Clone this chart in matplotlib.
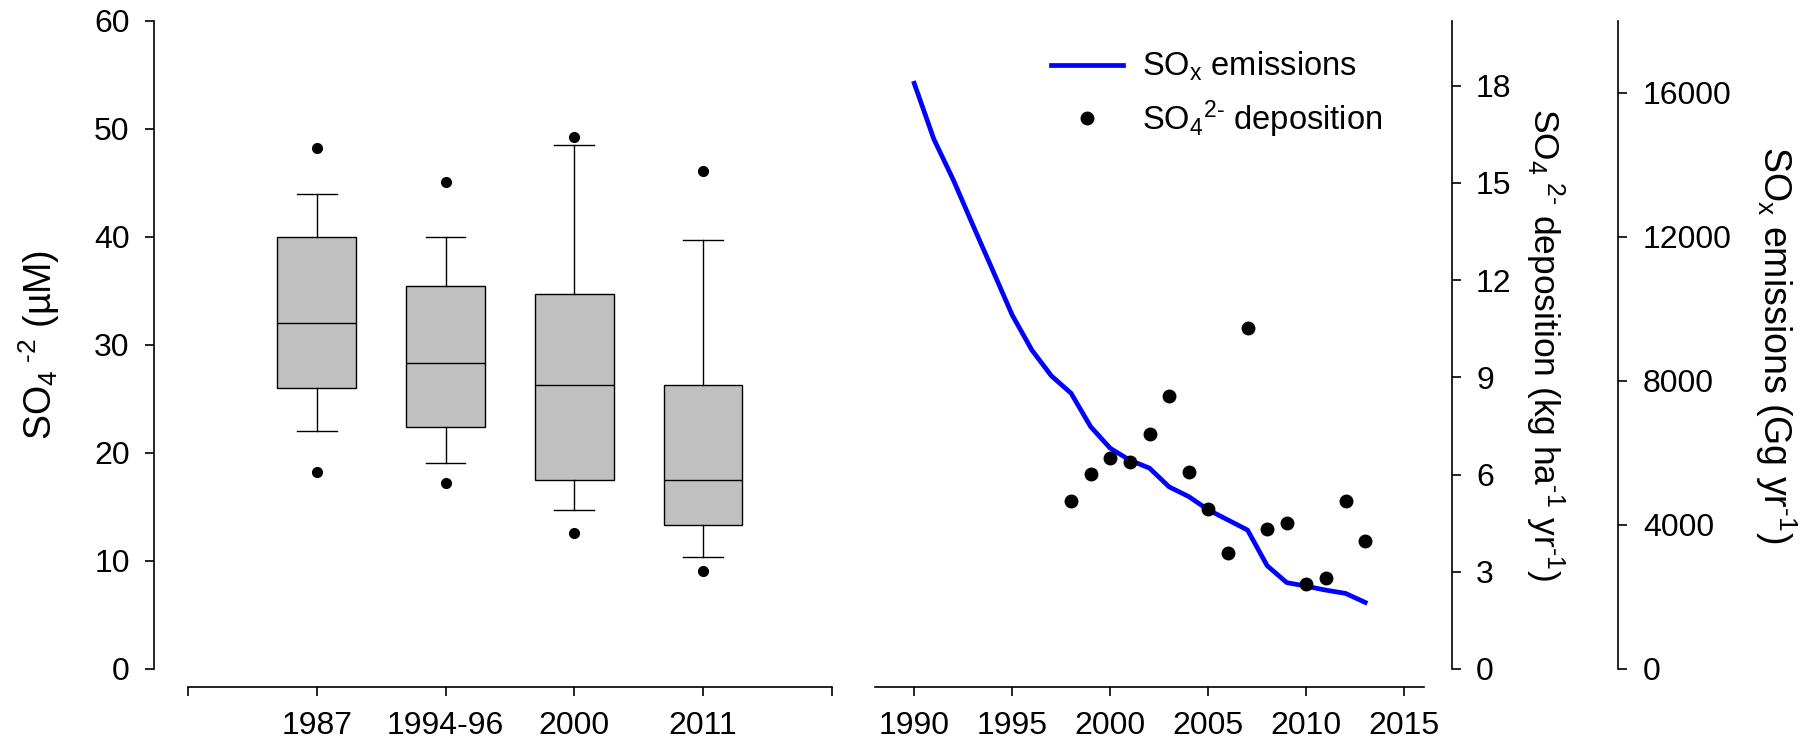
import matplotlib
matplotlib.use('Agg')
import matplotlib.pyplot as plt

plt.rcParams['font.family'] = ['Liberation Sans', 'DejaVu Sans']
plt.rcParams['mathtext.fontset'] = 'custom'
plt.rcParams['mathtext.rm'] = 'Liberation Sans'
plt.rcParams['mathtext.it'] = 'Liberation Sans:italic'
plt.rcParams['mathtext.bf'] = 'Liberation Sans:bold'

# box plot summaries, SO4 concentration (uM)
periods = ['1987', '1994-96', '2000', '2011']
whisk_lo = [22.0, 19.1, 14.7, 10.4]
q1 = [26.0, 22.4, 17.5, 13.3]
medians = [32.0, 28.3, 26.3, 17.5]
q3 = [40.0, 35.5, 34.7, 26.3]
whisk_hi = [44.0, 40.0, 48.5, 39.7]
outliers = [[48.2, 18.2], [45.1, 17.2], [49.3, 12.6], [46.1, 9.1]]

# SOx emissions (Gg/yr)
em_years = list(range(1990, 2014))
emissions = [16270, 14720, 13580, 12320, 11080, 9830, 8860, 8140, 7660, 6730,
             6130, 5800, 5580, 5060, 4790, 4420, 4140, 3860, 2870, 2400,
             2300, 2190, 2100, 1850]

# SO4 deposition (kg/ha/yr)
dep_years = list(range(1998, 2014))
deposition = [5.19, 6.01, 6.51, 6.39, 7.24, 8.42, 6.07, 4.94, 3.59, 10.53,
              4.31, 4.52, 2.62, 2.82, 5.19, 3.96]

W, H = 1812, 746
fig = plt.figure(figsize=(W / 100, H / 100), dpi=100)

y_bot, y_top = 669, 21
fb = 1 - y_bot / H
fh = (y_bot - y_top) / H

TICK = 23
LAB = 26
SPW = 1.2


def style_axis(ax):
    ax.tick_params(direction='out', length=6.5, width=SPW, labelsize=TICK, pad=11)
    for s in ax.spines.values():
        s.set_linewidth(SPW)


# ---- left panel: box plots
ax1 = fig.add_axes([154 / W, fb, (832 - 154) / W, fh])
stats = []
for i, p in enumerate(periods):
    stats.append(dict(label=p, whislo=whisk_lo[i], q1=q1[i], med=medians[i],
                      q3=q3[i], whishi=whisk_hi[i], fliers=outliers[i]))
ax1.bxp(stats, positions=[1, 2, 3, 4], widths=0.61, capwidths=0.31,
        patch_artist=True,
        boxprops=dict(facecolor='#c0c0c0', edgecolor='black', linewidth=1.0),
        medianprops=dict(color='black', linewidth=1.0),
        whiskerprops=dict(color='black', linewidth=1.0),
        capprops=dict(color='black', linewidth=1.0),
        flierprops=dict(marker='o', markerfacecolor='black',
                        markeredgecolor='black', markersize=7))
ax1.set_xlim(-0.263, 5.0)
ax1.set_ylim(0, 60)
ax1.set_xticks([0, 1, 2, 3, 4, 5])
ax1.set_xticklabels([''] + periods + [''])
ax1.set_yticks(range(0, 61, 10))
ax1.spines['top'].set_visible(False)
ax1.spines['right'].set_visible(False)
ax1.spines['bottom'].set_position(('outward', 13))
ax1.spines['bottom'].set_bounds(0, 5)
style_axis(ax1)
ax1.set_ylabel(r'SO$_4$$^{\ \text{-}2}$ (µM)', fontsize=LAB + 1)
ax1.yaxis.set_label_coords(-0.17, 0.5)
ax1.yaxis.label.set_verticalalignment('center')

# ---- right panel: emissions line + deposition points
x0, x1 = 875, 1424
ax2 = fig.add_axes([x0 / W, fb, (x1 - x0) / W, fh])
line, = ax2.plot(em_years, emissions, color='#0000ff', linewidth=3.4,
                 solid_joinstyle='round')
ax2.set_xlim(1988, 2016)
ax2.set_ylim(0, 18000)
ax2.set_xticks(range(1990, 2016, 5))
ax2.set_yticks(range(0, 16001, 4000))

ax3 = ax2.twinx()
dots, = ax3.plot(dep_years, deposition, linestyle='none', marker='o',
                 color='black', markersize=9)
ax3.set_ylim(0, 20)
ax3.set_yticks(range(0, 19, 3))

# twinx moves the host ticks to the left, put them back right
ax2.yaxis.tick_right()
ax2.yaxis.set_label_position('right')
ax2.spines['left'].set_visible(False)
ax2.spines['top'].set_visible(False)
ax2.spines['right'].set_position(('outward', 140))
ax2.spines['bottom'].set_position(('outward', 13))
style_axis(ax2)
ax2.set_ylabel(r'SO$_\mathrm{x}$ emissions (Gg yr$^{\text{-}1}$)',
               fontsize=LAB + 1, rotation=270)
ax2.yaxis.set_label_coords((1776 - x0) / (x1 - x0), 0.5)
ax2.yaxis.label.set_verticalalignment('center')

for s in ['left', 'top', 'bottom']:
    ax3.spines[s].set_visible(False)
ax3.spines['right'].set_position(('outward', 20))
style_axis(ax3)
ax3.set_ylabel(r'SO$_4$$^{\ 2\text{-}}$ deposition (kg ha$^{\text{-}1}$ yr$^{\text{-}1}$)',
               fontsize=LAB - 0.5, rotation=270)
ax3.yaxis.set_label_coords((1545 - x0) / (x1 - x0), 0.5)
ax3.yaxis.label.set_verticalalignment('center')

ax3.legend([line, dots],
           [r'SO$_\mathrm{x}$ emissions', r'SO$_4$$^{2\text{-}}$ deposition'],
           loc='upper left', bbox_to_anchor=(1051 / W, 1 - 50 / H),
           bbox_transform=fig.transFigure, frameon=False, fontsize=23.5,
           handlelength=2.2, handletextpad=0.58, labelspacing=0.45,
           borderpad=0, borderaxespad=0)

fig.savefig('out.png', dpi=100)
